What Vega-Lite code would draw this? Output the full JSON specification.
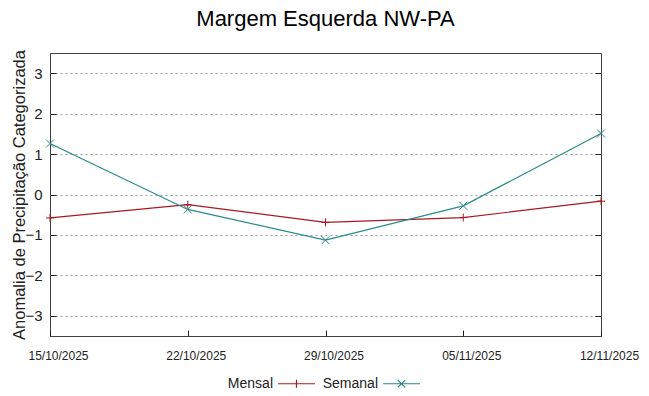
{
  "$schema": "https://vega.github.io/schema/vega-lite/v6.json",
  "autosize": "none",
  "width": 551,
  "height": 283,
  "padding": {"left": 50, "top": 53, "right": 48, "bottom": 60},
  "background": "white",
  "title": {"text": "Margem Esquerda NW-PA", "fontSize": 22, "font": "Liberation Sans", "fontWeight": "normal", "color": "#000000", "offset": 19},
  "config": {
    "font": "Liberation Sans",
    "view": {"stroke": "#404040", "strokeWidth": 1},
    "axis": {"domain": false, "labelColor": "#222222", "titleColor": "#222222", "labelFont": "Liberation Sans", "titleFont": "Liberation Sans", "titleFontWeight": "normal", "tickColor": "#222222"}
  },
  "data": {"values": [
    {"date": "15/10/2025", "serie": "Mensal", "valor": -0.58},
    {"date": "22/10/2025", "serie": "Mensal", "valor": -0.25},
    {"date": "29/10/2025", "serie": "Mensal", "valor": -0.69},
    {"date": "05/11/2025", "serie": "Mensal", "valor": -0.57},
    {"date": "12/11/2025", "serie": "Mensal", "valor": -0.165},
    {"date": "15/10/2025", "serie": "Semanal", "valor": 1.26},
    {"date": "22/10/2025", "serie": "Semanal", "valor": -0.37},
    {"date": "29/10/2025", "serie": "Semanal", "valor": -1.13},
    {"date": "05/11/2025", "serie": "Semanal", "valor": -0.28},
    {"date": "12/11/2025", "serie": "Semanal", "valor": 1.51}
  ]},
  "encoding": {
    "x": {"field": "date", "type": "ordinal", "sort": null, "scale": {"type": "point", "padding": 0},
      "axis": {"title": null, "labelAngle": 0, "labelFontSize": 12, "tickSize": -6, "labelPadding": 20, "labelOffset": 8, "grid": false}},
    "y": {"field": "valor", "type": "quantitative", "scale": {"domain": [-3.5, 3.5], "nice": false, "zero": false}},
    "color": {"field": "serie", "type": "nominal", "scale": {"domain": ["Mensal", "Semanal"], "range": ["#a8191f", "#2a8a8c"]}}
  },
  "layer": [
    {
      "mark": {"type": "line", "strokeWidth": 1.2},
      "encoding": {
        "y": {"field": "valor", "type": "quantitative", "axis": {"orient": "left", "title": "Anomalia de Precipitação Categorizada", "titleFontSize": 16.5, "labelFontSize": 15, "values": [-3, -2, -1, 0, 1, 2, 3], "tickSize": -6, "labelPadding": 14, "titlePadding": -3, "grid": true, "gridDash": [2, 3], "gridColor": "#9a9a9a", "gridWidth": 1}},
        "color": {"field": "serie", "type": "nominal", "legend": {
          "orient": "none", "legendX": 227, "legendY": 311, "direction": "horizontal", "title": null,
          "labelFontSize": 14, "labelColor": "#222222", "symbolSize": 1369, "symbolStrokeWidth": 1.2, "columnPadding": 4,
          "labelAlign": "right", "labelOffset": -43,
          "encode": {"symbols": {"update": {"shape": {"signal": "datum.value === 'Mensal' ? 'M-1,0H1M0,-0.22V0.22' : 'M-1,0H1M-0.2,-0.2L0.2,0.2M-0.2,0.2L0.2,-0.2'"}, "fill": {"value": "transparent"}}}}
        }}
      }
    },
    {
      "transform": [{"filter": "datum.serie === 'Mensal'"}],
      "mark": {"type": "point", "shape": "M-1,0H1M0,-1V1", "filled": false, "size": 64, "strokeWidth": 1, "opacity": 1},
      "encoding": {
        "y": {"field": "valor", "type": "quantitative", "axis": {"orient": "right", "title": null, "labels": false, "values": [-3, -2, -1, 0, 1, 2, 3], "tickSize": -6, "grid": false}}
      }
    },
    {
      "transform": [{"filter": "datum.serie === 'Semanal'"}],
      "mark": {"type": "point", "shape": "M-1,-1L1,1M-1,1L1,-1", "filled": false, "size": 64, "strokeWidth": 1, "opacity": 1},
      "encoding": {
        "y": {"field": "valor", "type": "quantitative", "axis": null}
      }
    }
  ],
  "resolve": {"axis": {"y": "independent"}}
}
